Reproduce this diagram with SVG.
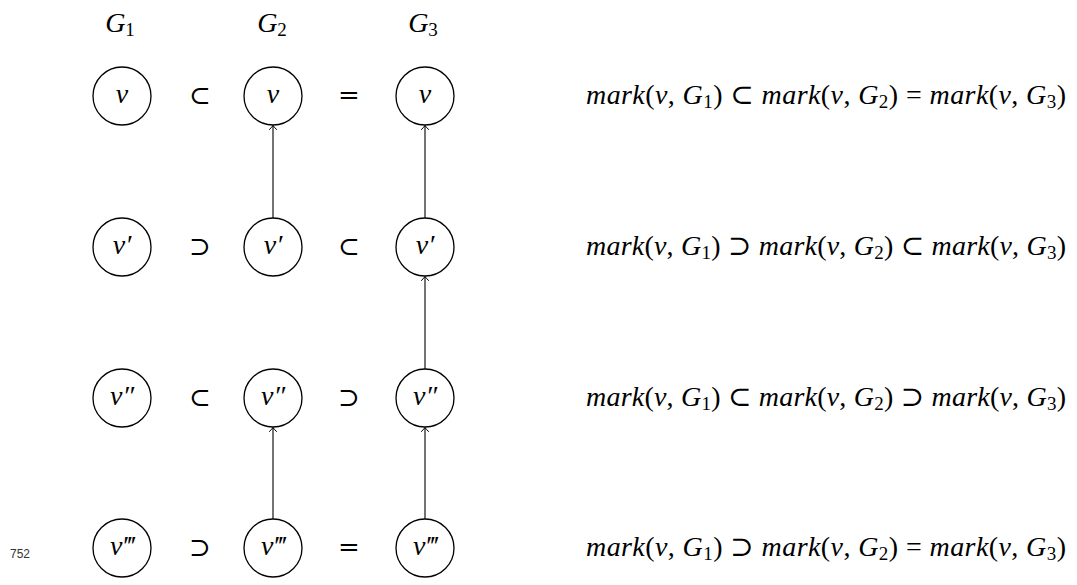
<svg xmlns="http://www.w3.org/2000/svg" width="1077" height="585" viewBox="0 0 1077 585">
<style>
.node circle{fill:#fff;stroke:#000;stroke-width:1.3}
.math{font-family:"Liberation Serif","DejaVu Serif",serif;font-size:28px;fill:#000}
.it{font-style:italic}
.lbl{text-anchor:middle}
.sub{font-size:19px;font-style:normal}
.rel{font-family:"DejaVu Serif","Liberation Serif",serif;font-size:26px;text-anchor:middle}
.edge{stroke:#000;stroke-width:1.1;fill:none}
.pg{font-family:"Liberation Sans",Arial,sans-serif;font-size:12px;fill:#333}
</style>
<defs>
<marker id="to" viewBox="-6 -6 8 12" markerWidth="8" markerHeight="12" refX="0" refY="0" orient="auto" markerUnits="userSpaceOnUse">
<path d="M-4,-3.5 Q-1.2,-0.8 0,0 Q-1.2,0.8 -4,3.5" fill="none" stroke="#000" stroke-width="1" stroke-linecap="round"/>
</marker>
</defs>
<rect width="1077" height="585" fill="#fff"/>

<g id="headers" class="math">
<text class="lbl" x="120" y="32"><tspan class="it">G</tspan><tspan class="sub" dy="4">1</tspan></text>
<text class="lbl" x="272" y="32"><tspan class="it">G</tspan><tspan class="sub" dy="4">2</tspan></text>
<text class="lbl" x="423" y="32"><tspan class="it">G</tspan><tspan class="sub" dy="4">3</tspan></text>
</g>

<g id="connectors">
<line class="edge" x1="273" y1="218" x2="273" y2="125.5" marker-end="url(#to)"/>
<line class="edge" x1="273" y1="519" x2="273" y2="427.5" marker-end="url(#to)"/>
<line class="edge" x1="425" y1="218" x2="425" y2="125.5" marker-end="url(#to)"/>
<line class="edge" x1="425" y1="369" x2="425" y2="276.5" marker-end="url(#to)"/>
<line class="edge" x1="425" y1="519" x2="425" y2="427.5" marker-end="url(#to)"/>
</g>

<g id="n11" class="node"><circle cx="122" cy="96" r="29"/><text class="math it lbl" x="122" y="103">v</text></g>
<g id="n12" class="node"><circle cx="273" cy="96" r="29"/><text class="math it lbl" x="273" y="103">v</text></g>
<g id="n13" class="node"><circle cx="425" cy="96" r="29"/><text class="math it lbl" x="425" y="103">v</text></g>

<g id="n21" class="node"><circle cx="122" cy="247" r="29"/><text class="math it lbl" x="122" y="254">v′</text></g>
<g id="n22" class="node"><circle cx="273" cy="247" r="29"/><text class="math it lbl" x="273" y="254">v′</text></g>
<g id="n23" class="node"><circle cx="425" cy="247" r="29"/><text class="math it lbl" x="425" y="254">v′</text></g>

<g id="n31" class="node"><circle cx="122" cy="398" r="29"/><text class="math it lbl" x="122" y="405">v″</text></g>
<g id="n32" class="node"><circle cx="273" cy="398" r="29"/><text class="math it lbl" x="273" y="405">v″</text></g>
<g id="n33" class="node"><circle cx="425" cy="398" r="29"/><text class="math it lbl" x="425" y="405">v″</text></g>

<g id="n41" class="node"><circle cx="122" cy="548" r="29"/><text class="math it lbl" x="122" y="555">v‴</text></g>
<g id="n42" class="node"><circle cx="273" cy="548" r="29"/><text class="math it lbl" x="273" y="555">v‴</text></g>
<g id="n43" class="node"><circle cx="425" cy="548" r="29"/><text class="math it lbl" x="425" y="555">v‴</text></g>

<g id="relations">
<text class="rel" x="200" y="104">⊂</text>
<text class="rel" x="349" y="104">=</text>
<text class="rel" x="200" y="255">⊃</text>
<text class="rel" x="349" y="255">⊂</text>
<text class="rel" x="200" y="406">⊂</text>
<text class="rel" x="349" y="406">⊃</text>
<text class="rel" x="200" y="556">⊃</text>
<text class="rel" x="349" y="556">=</text>
</g>

<g id="formulas" class="math">
<text x="586" y="104" textLength="480" lengthAdjust="spacing"><tspan class="it">mark</tspan>(<tspan class="it">v</tspan>, <tspan class="it">G</tspan><tspan class="sub" dy="4">1</tspan><tspan dy="-4">) ⊂ </tspan><tspan class="it">mark</tspan>(<tspan class="it">v</tspan>, <tspan class="it">G</tspan><tspan class="sub" dy="4">2</tspan><tspan dy="-4">) = </tspan><tspan class="it">mark</tspan>(<tspan class="it">v</tspan>, <tspan class="it">G</tspan><tspan class="sub" dy="4">3</tspan><tspan dy="-4">)</tspan></text>
<text x="586" y="255" textLength="480" lengthAdjust="spacing"><tspan class="it">mark</tspan>(<tspan class="it">v</tspan>, <tspan class="it">G</tspan><tspan class="sub" dy="4">1</tspan><tspan dy="-4">) ⊃ </tspan><tspan class="it">mark</tspan>(<tspan class="it">v</tspan>, <tspan class="it">G</tspan><tspan class="sub" dy="4">2</tspan><tspan dy="-4">) ⊂ </tspan><tspan class="it">mark</tspan>(<tspan class="it">v</tspan>, <tspan class="it">G</tspan><tspan class="sub" dy="4">3</tspan><tspan dy="-4">)</tspan></text>
<text x="586" y="406" textLength="480" lengthAdjust="spacing"><tspan class="it">mark</tspan>(<tspan class="it">v</tspan>, <tspan class="it">G</tspan><tspan class="sub" dy="4">1</tspan><tspan dy="-4">) ⊂ </tspan><tspan class="it">mark</tspan>(<tspan class="it">v</tspan>, <tspan class="it">G</tspan><tspan class="sub" dy="4">2</tspan><tspan dy="-4">) ⊃ </tspan><tspan class="it">mark</tspan>(<tspan class="it">v</tspan>, <tspan class="it">G</tspan><tspan class="sub" dy="4">3</tspan><tspan dy="-4">)</tspan></text>
<text x="586" y="556" textLength="480" lengthAdjust="spacing"><tspan class="it">mark</tspan>(<tspan class="it">v</tspan>, <tspan class="it">G</tspan><tspan class="sub" dy="4">1</tspan><tspan dy="-4">) ⊃ </tspan><tspan class="it">mark</tspan>(<tspan class="it">v</tspan>, <tspan class="it">G</tspan><tspan class="sub" dy="4">2</tspan><tspan dy="-4">) = </tspan><tspan class="it">mark</tspan>(<tspan class="it">v</tspan>, <tspan class="it">G</tspan><tspan class="sub" dy="4">3</tspan><tspan dy="-4">)</tspan></text>
</g>

<text class="pg" x="10" y="558">752</text>
</svg>
